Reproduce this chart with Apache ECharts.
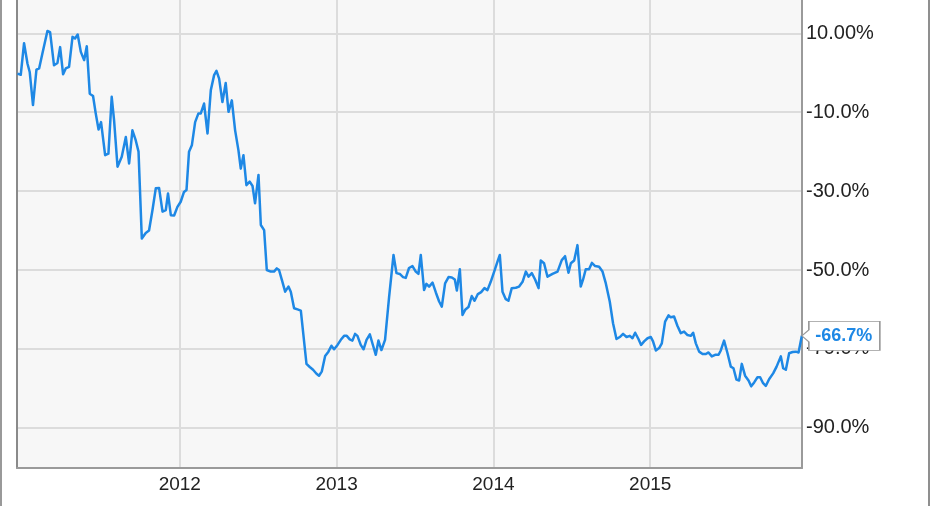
<!DOCTYPE html>
<html>
<head>
<meta charset="utf-8">
<script src="https://cdn.jsdelivr.net/npm/echarts@6/dist/echarts.min.js"></script>
<style>
html,body{margin:0;padding:0;background:#fff;}
#chart{width:931px;height:506px;}
</style>
</head>
<body>
<div id="chart"></div>
<script>
// Tick labels
var yearTicks = [2012, 2013, 2014, 2015];
var pctTicks = [10, -10, -30, -50, -70, -90];
var endLabel = '-66.7%';

// Time positions (fractional years) of the traced points
var years = [
2010.965,2010.986,2011.007,2011.029,2011.043,2011.064,2011.086,2011.103,2011.124,2011.156,
2011.173,2011.198,2011.220,2011.237,2011.256,2011.273,2011.294,2011.316,2011.332,2011.349,
2011.369,2011.390,2011.407,2011.426,2011.447,2011.464,2011.482,2011.498,2011.524,2011.545,
2011.566,2011.581,2011.603,2011.630,2011.656,2011.677,2011.698,2011.719,2011.737,2011.758,
2011.783,2011.804,2011.826,2011.847,2011.868,2011.890,2011.911,2011.925,2011.943,2011.964,
2011.985,2012.006,2012.027,2012.043,2012.059,2012.077,2012.098,2012.119,2012.134,2012.155,
2012.177,2012.198,2012.219,2012.234,2012.251,2012.272,2012.293,2012.311,2012.332,2012.353,
2012.374,2012.389,2012.406,2012.425,2012.446,2012.464,2012.480,2012.502,2012.517,2012.538,
2012.555,2012.580,2012.601,2012.619,2012.633,2012.651,2012.672,2012.693,2012.708,2012.729,
2012.751,2012.772,2012.808,2012.829,2012.850,2012.872,2012.888,2012.906,2012.927,2012.948,
2012.967,2012.984,2013.006,2013.027,2013.048,2013.065,2013.084,2013.101,2013.118,2013.133,
2013.154,2013.172,2013.191,2013.212,2013.233,2013.250,2013.267,2013.286,2013.309,2013.335,
2013.363,2013.382,2013.403,2013.424,2013.441,2013.462,2013.484,2013.505,2013.522,2013.537,
2013.558,2013.573,2013.590,2013.612,2013.633,2013.654,2013.671,2013.692,2013.714,2013.735,
2013.754,2013.767,2013.786,2013.803,2013.820,2013.841,2013.862,2013.880,2013.901,2013.922,
2013.943,2013.962,2013.983,2014.005,2014.026,2014.041,2014.058,2014.079,2014.096,2014.117,
2014.143,2014.164,2014.186,2014.207,2014.224,2014.245,2014.266,2014.288,2014.302,2014.323,
2014.345,2014.377,2014.409,2014.436,2014.457,2014.479,2014.494,2014.515,2014.536,2014.557,
2014.572,2014.589,2014.610,2014.628,2014.649,2014.674,2014.696,2014.717,2014.742,2014.763,
2014.785,2014.806,2014.827,2014.849,2014.870,2014.887,2014.904,2014.925,2014.942,2014.961,
2014.983,2015.004,2015.018,2015.036,2015.057,2015.074,2015.095,2015.117,2015.131,2015.152,
2015.174,2015.195,2015.216,2015.238,2015.259,2015.274,2015.291,2015.312,2015.334,2015.355,
2015.372,2015.393,2015.414,2015.436,2015.450,2015.471,2015.493,2015.514,2015.531,2015.550,
2015.567,2015.584,2015.605,2015.627,2015.644,2015.663,2015.684,2015.701,2015.720,2015.737,
2015.758,2015.784,2015.806,2015.833,2015.848,2015.865,2015.886,2015.908,2015.929,2015.946,
2015.967
];

// Total return (%) at each point
var returns = [
-0.2,-0.5,7.5,2.3,0.2,-8.2,0.8,1.1,4.9,10.6,
10.3,1.9,2.5,6.5,-0.4,1.1,1.5,9.1,8.7,9.7,
5.3,3.2,6.7,-5.3,-5.9,-10.3,-14.4,-12.5,-20.9,-20.5,
-6.1,-12.0,-23.8,-21.3,-16.3,-23.0,-14.6,-17.1,-20.0,-42.0,
-40.6,-40.0,-34.8,-29.3,-29.2,-35.2,-34.8,-30.6,-36.1,-36.2,
-34.0,-32.7,-30.2,-29.7,-20.0,-18.4,-12.5,-10.3,-10.3,-7.8,
-15.4,-4.4,-0.6,0.5,-1.5,-7.4,-2.6,-9.9,-7.0,-14.6,
-19.6,-24.3,-20.9,-28.5,-27.6,-28.7,-33.1,-25.9,-38.6,-39.9,
-50.0,-50.4,-50.4,-49.6,-50.0,-52.5,-55.5,-54.2,-55.5,-59.7,
-60.0,-60.3,-73.8,-74.6,-75.3,-76.3,-76.8,-75.7,-71.8,-70.7,
-69.2,-70.1,-69.0,-67.7,-66.7,-66.7,-67.6,-67.9,-66.2,-66.7,
-69.0,-70.1,-67.7,-66.3,-69.2,-71.5,-67.9,-70.3,-67.7,-56.8,
-46.2,-50.8,-51.0,-51.8,-52.0,-49.5,-49.0,-50.4,-51.0,-46.2,
-55.1,-53.5,-54.2,-53.2,-55.7,-58.0,-59.3,-53.4,-51.8,-51.9,
-52.4,-55.2,-49.8,-61.4,-60.1,-59.4,-56.6,-57.8,-56.1,-55.6,
-54.6,-55.1,-53.0,-50.4,-47.9,-46.2,-55.5,-57.4,-57.8,-54.6,
-54.5,-54.2,-53.0,-50.4,-51.7,-50.8,-52.4,-54.6,-47.6,-48.3,
-51.7,-51.0,-50.4,-47.5,-46.5,-50.7,-48.3,-47.6,-43.7,-54.2,
-52.4,-49.8,-49.8,-48.2,-49.0,-49.2,-50.4,-53.4,-58.0,-63.5,
-67.5,-67.0,-66.2,-67.0,-66.7,-67.3,-65.9,-67.5,-69.0,-68.1,
-67.3,-67.0,-68.1,-70.4,-69.8,-68.6,-63.1,-61.5,-62.0,-61.8,
-64.2,-66.0,-65.6,-66.5,-66.7,-65.9,-68.6,-70.7,-71.3,-71.3,
-70.9,-71.9,-71.5,-71.5,-70.4,-67.9,-71.1,-74.5,-74.9,-77.8,
-78.0,-73.8,-76.8,-78.0,-79.5,-78.5,-77.2,-77.2,-78.7,-79.4,
-77.7,-76.2,-74.5,-71.9,-74.9,-75.3,-71.1,-70.8,-70.7,-70.9,
-66.7
];

var LINE = '#1e88e5';
var FONT = '"Liberation Sans", Arial, sans-serif';

var seriesData = years.map(function (t, i) { return [t, returns[i]]; });
var last = seriesData[seriesData.length - 1];

var chart = echarts.init(document.getElementById('chart'), null, {renderer: 'canvas'});
chart.setOption({
  animation: false,
  backgroundColor: '#ffffff',
  grid: {
    left: 17, right: 129, top: 0, bottom: 38,
    show: true, backgroundColor: '#f7f7f7', borderWidth: 0
  },
  xAxis: {
    type: 'value',
    min: 2010.962, max: 2015.968,
    axisLine: {show: true, onZero: false, lineStyle: {color: '#9a9a9a', width: 2}},
    axisTick: {show: false, customValues: yearTicks},
    axisLabel: {
      customValues: yearTicks,
      formatter: function (v) { return String(Math.round(v)); },
      color: '#222', fontFamily: FONT, fontSize: 19, margin: 7
    },
    splitLine: {show: true, lineStyle: {color: '#dcdcdc', width: 2}}
  },
  yAxis: [{
    type: 'value',
    position: 'right',
    min: -100.2, max: 18.45,
    axisLine: {show: true, onZero: false, lineStyle: {color: '#9a9a9a', width: 2}},
    axisTick: {show: false, customValues: pctTicks},
    axisLabel: {
      customValues: pctTicks,
      formatter: function (v) { return v === 10 ? '10.00%' : v.toFixed(1) + '%'; },
      color: '#222', fontFamily: FONT, fontSize: 20, margin: 4, align: 'left'
    },
    splitLine: {show: true, lineStyle: {color: '#dcdcdc', width: 2}}
  }, {
    type: 'value',
    position: 'left',
    min: -100.2, max: 18.45,
    axisLine: {show: true, onZero: false, lineStyle: {color: '#8a8a8a', width: 2}},
    axisTick: {show: false},
    axisLabel: {show: false},
    splitLine: {show: false}
  }],
  graphic: [
    {type: 'rect', left: 0, top: 0, shape: {width: 2, height: 506}, style: {fill: '#999'}, z: 100},
    {type: 'rect', left: 928, top: 0, shape: {width: 2, height: 506}, style: {fill: '#8f8f8f'}, z: 100}
  ],
  series: [{
    type: 'line',
    yAxisIndex: 0,
    data: seriesData,
    showSymbol: false,
    symbol: 'none',
    lineStyle: {color: LINE, width: 2.5, join: 'round'},
    itemStyle: {color: LINE},
    z: 5,
    markPoint: {
      silent: true,
      z: 20,
      data: [{
        coord: last,
        symbol: 'path://M0,14.5 L7,8.5 L7,0 L78,0 L78,29 L7,29 L7,20.5 Z',
        symbolSize: [78, 29],
        symbolOffset: [39, 0],
        itemStyle: {color: '#ffffff', borderColor: '#999', borderWidth: 1},
        label: {
          show: true, position: 'inside', offset: [3, 0],
          formatter: endLabel,
          color: LINE, fontFamily: FONT, fontWeight: 'bold', fontSize: 18
        }
      }]
    }
  }]
});
</script>
</body>
</html>
